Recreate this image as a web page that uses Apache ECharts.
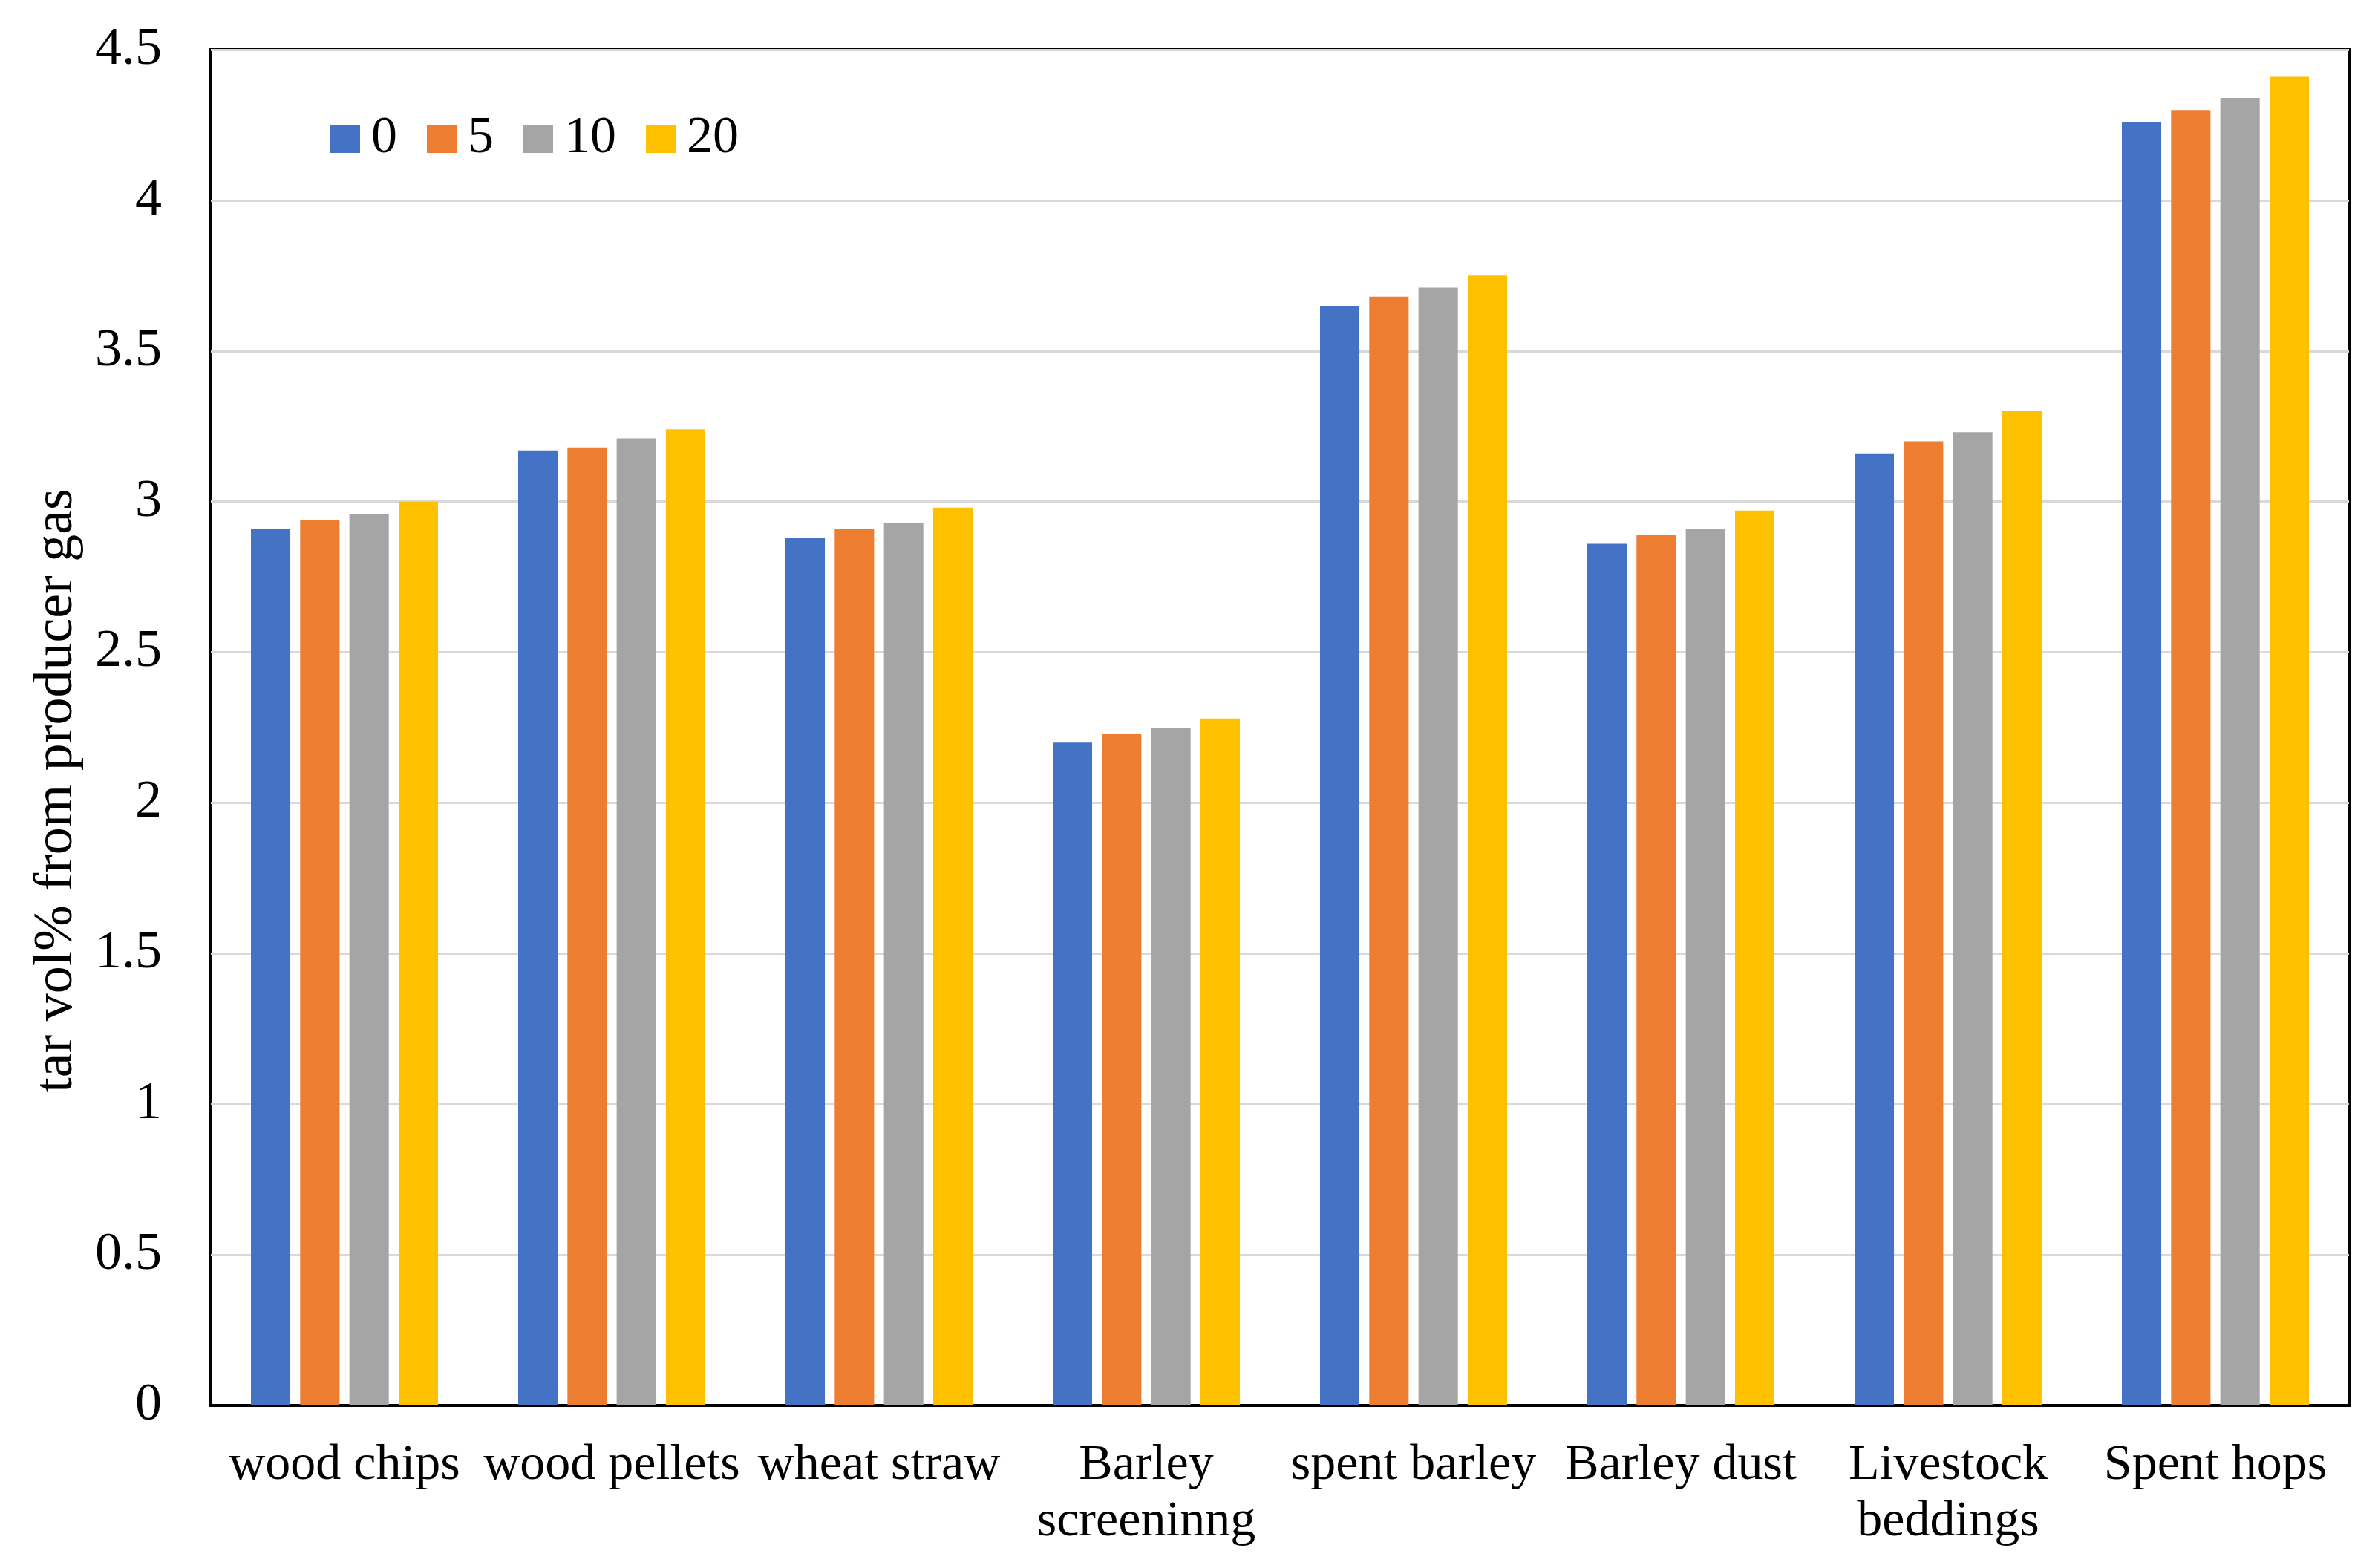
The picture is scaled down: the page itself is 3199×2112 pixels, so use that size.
<!DOCTYPE html>
<html>
<head>
<meta charset="utf-8">
<script src="https://cdn.jsdelivr.net/npm/echarts@6/dist/echarts.min.js"></script>
<style>
html,body{margin:0;padding:0;background:#fff;}
#chart{width:3199px;height:2112px;}
</style>
</head>
<body>
<div id="chart"></div>
<script>
const categories = ['wood chips', 'wood pellets', 'wheat straw', 'Barley\nscreeninng', 'spent barley', 'Barley dust', 'Livestock\nbeddings', 'Spent hops'];
const seriesNames = ['0', '5', '10', '20'];
const values0  = [2.91, 3.17, 2.88, 2.20, 3.65, 2.86, 3.16, 4.26];
const values5  = [2.94, 3.18, 2.91, 2.23, 3.68, 2.89, 3.20, 4.30];
const values10 = [2.96, 3.21, 2.93, 2.25, 3.71, 2.91, 3.23, 4.34];
const values20 = [3.00, 3.24, 2.98, 2.28, 3.75, 2.97, 3.30, 4.41];
const yTicks = [0, 0.5, 1, 1.5, 2, 2.5, 3, 3.5, 4, 4.5];
const colors = ['#4472C4', '#ED7D31', '#A5A5A5', '#FFC000'];

const FONT = "'Liberation Serif', 'Times New Roman', serif";
const allValues = [values0, values5, values10, values20];

const chart = echarts.init(document.getElementById('chart'));
chart.setOption({
  animation: false,
  backgroundColor: '#fff',
  color: colors,
  textStyle: { fontFamily: FONT, color: '#000' },
  grid: {
    left: 284, right: 35, top: 67, bottom: 219,
    show: true, borderColor: '#000', borderWidth: 4, backgroundColor: 'transparent'
  },
  legend: {
    data: seriesNames,
    left: 445, top: 152,
    padding: 0,
    itemWidth: 40, itemHeight: 38,
    itemGap: 40,
    icon: 'rect',
    textStyle: { fontFamily: FONT, fontSize: 70, color: '#000', padding: [0, 0, 0, 10] }
  },
  xAxis: {
    type: 'category',
    data: categories,
    axisLine: { show: true, lineStyle: { color: '#000', width: 4 } },
    axisTick: { show: false },
    axisLabel: {
      interval: 0, margin: 43,
      fontFamily: FONT, fontSize: 68, lineHeight: 76, color: '#000'
    },
    splitLine: { show: false }
  },
  yAxis: {
    type: 'value',
    min: 0, max: 4.5, interval: 0.5,
    name: 'tar vol% from producer gas',
    nameLocation: 'middle',
    nameGap: 170,
    nameTextStyle: { fontFamily: FONT, fontSize: 74, color: '#000', padding: [0, 170, 0, 0] },
    axisLine: { show: false },
    axisTick: { show: false },
    axisLabel: {
      margin: 66, fontFamily: FONT, fontSize: 72, color: '#000',
      formatter: function (v) { return yTicks.indexOf(v) >= 0 ? String(v) : ''; }
    },
    splitLine: { show: true, lineStyle: { color: '#d9d9d9', width: 3 } }
  },
  series: seriesNames.map(function (name, i) {
    return {
      name: name,
      type: 'bar',
      data: allValues[i],
      barGap: '25%',
      barCategoryGap: '30%',
      itemStyle: { color: colors[i] }
    };
  })
});
</script>
</body>
</html>
